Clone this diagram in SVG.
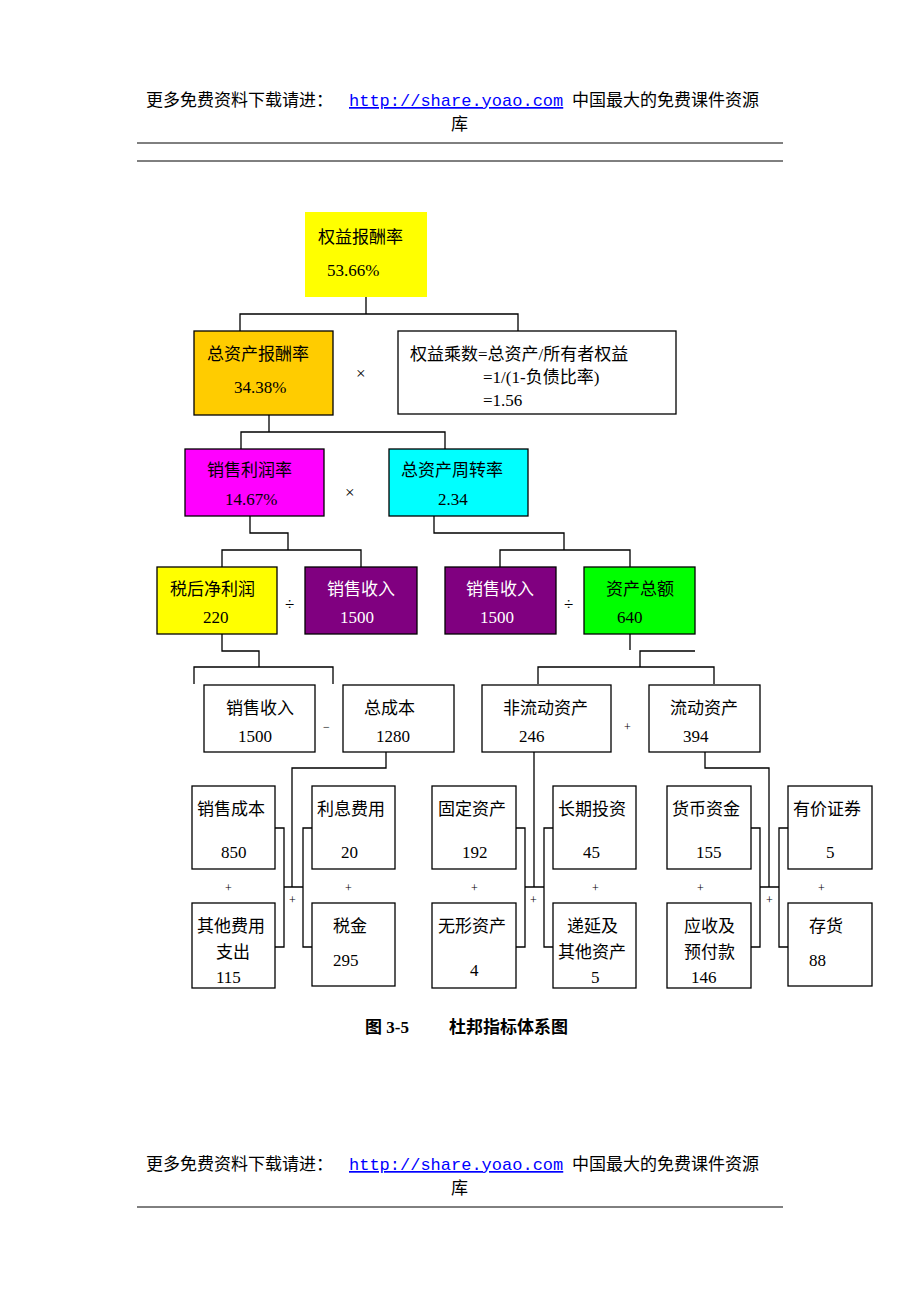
<svg xmlns="http://www.w3.org/2000/svg" width="920" height="1302" viewBox="0 0 920 1302">
<style>
text{font-family:"Liberation Serif","Noto Sans CJK SC",serif;font-size:17px;fill:#000}
.b{stroke:#000;stroke-width:1.3}
.c{fill:none;stroke:#000;stroke-width:1.3}
.w{fill:#fff}
.s{font-size:12px}
.link{font-family:"Liberation Mono","Noto Sans CJK SC",monospace;fill:#00f;text-decoration:underline}
</style>
<rect width="920" height="1302" fill="#fff"/>
<g id="header">
<text x="146" y="106">更多免费资料下载请进：<tspan class="link" x="349">http://share.yoao.com</tspan><tspan x="572">中国最大的免费课件资源</tspan></text>
<text x="451" y="130">库</text>
<line x1="137" y1="143" x2="783" y2="143" stroke="#000"/>
<line x1="137" y1="161" x2="783" y2="161" stroke="#000"/>
</g>
<g id="connectors" class="c">
<path d="M366 297V314M240 332V314H518V332"/>
<path d="M269 415V432M241 449V432H445V449"/>
<path d="M250 516V533H288V550M222 567V550H361V567"/>
<path d="M434 516V533H564V550M500 567V550H630V567"/>
<path d="M222 634V651H259V667M194 684V667H333V684"/>
<path d="M630 634V650M695 651H640V667M538 684V667H714V684"/>
<path d="M386 752V768H292V887M534 752V887M705 752V768H769V887"/>
<path d="M275 828H284V947H275M312 828H303V947H312M284 887H303"/>
<path d="M516 828H525V947H516M553 828H544V947H553M525 887H544"/>
<path d="M751 828H760V947H751M788 828H779V947H788M760 887H779"/>
</g>
<g id="n1"><rect x="305" y="212" width="122" height="85" fill="#ffff00"/><text x="318" y="243">权益报酬率</text><text x="327" y="276">53.66%</text></g>
<g id="n2"><rect class="b" x="194" y="331" width="139" height="84" fill="#ffcc00"/><text x="207" y="360">总资产报酬率</text><text x="234" y="393">34.38%</text></g>
<text x="356" y="379" font-size="20">×</text>
<g id="n3"><rect class="b w" x="398" y="331" width="278" height="83"/><text x="410" y="360">权益乘数=总资产/所有者权益</text><text x="483" y="383">=1/(1-负债比率)</text><text x="483" y="406">=1.56</text></g>
<g id="n4"><rect class="b" x="185" y="449" width="139" height="67" fill="#ff00ff"/><text x="207" y="476">销售利润率</text><text x="225" y="505">14.67%</text></g>
<text x="345" y="498" font-size="20">×</text>
<g id="n5"><rect class="b" x="389" y="449" width="139" height="67" fill="#00ffff"/><text x="401" y="476">总资产周转率</text><text x="438" y="505">2.34</text></g>
<g id="n6"><rect class="b" x="157" y="567" width="120" height="67" fill="#ffff00"/><text x="170" y="595">税后净利润</text><text x="203" y="623">220</text></g>
<text x="285" y="610">÷</text>
<g id="n7"><rect class="b" x="305" y="567" width="112" height="67" fill="#800080"/><text x="327" y="595" fill="#fff" style="fill:#fff">销售收入</text><text x="340" y="623" style="fill:#fff">1500</text></g>
<g id="n8"><rect class="b" x="445" y="567" width="111" height="67" fill="#800080"/><text x="466" y="595" style="fill:#fff">销售收入</text><text x="480" y="623" style="fill:#fff">1500</text></g>
<text x="564" y="610">÷</text>
<g id="n9"><rect class="b" x="584" y="567" width="111" height="67" fill="#00ff00"/><text x="606" y="595">资产总额</text><text x="617" y="623">640</text></g>
<g id="n10"><rect class="b w" x="204" y="685" width="111" height="67"/><text x="226" y="714">销售收入</text><text x="238" y="742">1500</text></g>
<text x="323" y="731" class="s">−</text>
<g id="n11"><rect class="b w" x="343" y="685" width="111" height="67"/><text x="364" y="714">总成本</text><text x="376" y="742">1280</text></g>
<g id="n12"><rect class="b w" x="482" y="685" width="129" height="67"/><text x="503" y="714">非流动资产</text><text x="519" y="742">246</text></g>
<text x="624" y="731" class="s">+</text>
<g id="n13"><rect class="b w" x="649" y="685" width="111" height="67"/><text x="670" y="714">流动资产</text><text x="683" y="742">394</text></g>
<g id="n14"><rect class="b w" x="192" y="786" width="83" height="83"/><text x="197" y="815">销售成本</text><text x="221" y="858">850</text></g>
<g id="n15"><rect class="b w" x="192" y="903" width="83" height="85"/><text x="197" y="932">其他费用</text><text x="216" y="958">支出</text><text x="216" y="983">115</text></g>
<g id="n16"><rect class="b w" x="312" y="786" width="83" height="83"/><text x="317" y="815">利息费用</text><text x="341" y="858">20</text></g>
<g id="n17"><rect class="b w" x="312" y="903" width="83" height="83"/><text x="333" y="932">税金</text><text x="333" y="966">295</text></g>
<g id="n18"><rect class="b w" x="432" y="786" width="84" height="83"/><text x="438" y="815">固定资产</text><text x="462" y="858">192</text></g>
<g id="n19"><rect class="b w" x="432" y="903" width="84" height="85"/><text x="438" y="932">无形资产</text><text x="470" y="976">4</text></g>
<g id="n20"><rect class="b w" x="553" y="786" width="83" height="83"/><text x="558" y="815">长期投资</text><text x="583" y="858">45</text></g>
<g id="n21"><rect class="b w" x="553" y="903" width="83" height="85"/><text x="567" y="932">递延及</text><text x="558" y="958">其他资产</text><text x="591" y="983">5</text></g>
<g id="n22"><rect class="b w" x="667" y="786" width="84" height="83"/><text x="672" y="815">货币资金</text><text x="696" y="858">155</text></g>
<g id="n23"><rect class="b w" x="667" y="903" width="84" height="85"/><text x="684" y="932">应收及</text><text x="684" y="958">预付款</text><text x="691" y="983">146</text></g>
<g id="n24"><rect class="b w" x="788" y="786" width="84" height="83"/><text x="793" y="815">有价证券</text><text x="826" y="858">5</text></g>
<g id="n25"><rect class="b w" x="788" y="903" width="84" height="83"/><text x="809" y="932">存货</text><text x="809" y="966">88</text></g>
<g class="s">
<text x="225" y="892" class="s">+</text><text x="345" y="892" class="s">+</text><text x="471" y="892" class="s">+</text><text x="592" y="892" class="s">+</text><text x="697" y="892" class="s">+</text><text x="818" y="892" class="s">+</text>
<text x="289" y="904" class="s">+</text><text x="530" y="904" class="s">+</text><text x="766" y="904" class="s">+</text>
</g>
<text x="365" y="1033" font-weight="bold">图 3-5<tspan x="449">杜邦指标体系图</tspan></text>
<g id="footer">
<text x="146" y="1170">更多免费资料下载请进：<tspan class="link" x="349">http://share.yoao.com</tspan><tspan x="572">中国最大的免费课件资源</tspan></text>
<text x="451" y="1194">库</text>
<line x1="137" y1="1207" x2="783" y2="1207" stroke="#000"/>
</g>
</svg>
